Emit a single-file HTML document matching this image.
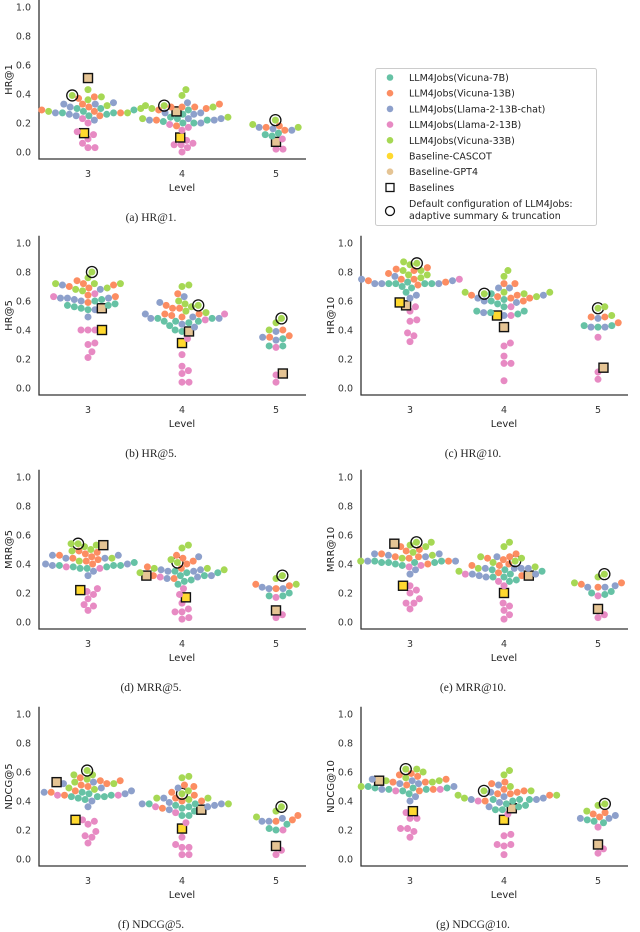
<!DOCTYPE html>
<html><head><meta charset="utf-8">
<style>
body{margin:0;background:#fff;}
svg{display:block;}
text{font-family:"DejaVu Sans","Liberation Sans",sans-serif;}
.cap{font-family:"Liberation Serif",serif;font-size:11.5px;fill:#222;}
</style></head>
<body>
<svg id="fig" width="640" height="932" viewBox="0 0 640 932"></svg>
<script>
const levels = ["3","4","5"];
const seriesNames = ["LLM4Jobs(Vicuna-7B)","LLM4Jobs(Vicuna-13B)","LLM4Jobs(Llama-2-13B-chat)","LLM4Jobs(Llama-2-13B)","LLM4Jobs(Vicuna-33B)"];
const seriesColors = ["#66c2a5","#fc8d62","#8da0cb","#e78ac3","#a6d854"];
const yTicks = ["0.0","0.2","0.4","0.6","0.8","1.0"];
const hr1 = [
 [[0.29,0.30,0.27,0.30,0.25,0.28,0.26,0.27],[0.38,0.33,0.37,0.28,0.31,0.25,0.27,0.29],[0.33,0.34,0.27,0.26,0.33,0.31,0.25,0.22],[0.23,0.20,0.14,0.12,0.09,0.06,0.03,0.03],[0.39,0.43,0.36,0.38,0.30,0.32,0.27,0.28]],
 [[0.29,0.26,0.23,0.24,0.20,0.20,0.21,0.22],[0.33,0.31,0.31,0.30,0.29,0.22,0.18,0.31],[0.23,0.23,0.22,0.27,0.34,0.26,0.27,0.22,0.20],[0.19,0.17,0.15,0.08,0.06,0.05,0.03,0.00,0.05],[0.32,0.43,0.39,0.31,0.30,0.24,0.32,0.23]],
 [[0.13,0.11,0.12],[0.15,0.18,0.17],[0.17,0.16,0.15],[0.09,0.02,0.02],[0.22,0.19,0.17]]];
const hr1Cascot = [0.13,0.10,null];
const hr1Gpt4 = [0.51,0.28,0.07];
const hr5 = [
 [[0.58,0.57,0.61,0.55,0.54,0.60,0.56,0.57],[0.70,0.74,0.72,0.69,0.71,0.63,0.64,0.59],[0.62,0.62,0.68,0.60,0.54,0.71,0.61,0.62,0.49],[0.65,0.63,0.40,0.40,0.40,0.31,0.30,0.25,0.21],[0.80,0.76,0.72,0.72,0.69,0.68,0.67,0.72]],
 [[0.48,0.48,0.46,0.45,0.46,0.46,0.43,0.40,0.39],[0.57,0.65,0.55,0.55,0.51,0.50,0.49,0.51],[0.59,0.51,0.49,0.48,0.48,0.44,0.42,0.63],[0.47,0.34,0.23,0.15,0.12,0.10,0.04,0.04,0.51],[0.57,0.71,0.70,0.58,0.60,0.56,0.53,0.52]],
 [[0.34,0.29,0.29],[0.36,0.40,0.35],[0.39,0.33,0.35],[0.28,0.09,0.04],[0.48,0.45,0.40]]];
const hr5Cascot = [0.40,0.31,null];
const hr5Gpt4 = [0.55,0.39,0.10];
const hr10 = [
 [[0.72,0.72,0.72,0.70,0.69,0.66,0.72,0.73],[0.75,0.81,0.79,0.83,0.73,0.74,0.71,0.82,0.75],[0.72,0.72,0.75,0.74,0.64,0.62,0.77,0.72],[0.75,0.56,0.53,0.47,0.46,0.38,0.36,0.32],[0.86,0.78,0.87,0.85,0.81,0.81,0.78,0.76]],
 [[0.65,0.61,0.60,0.56,0.53,0.53,0.51,0.58,0.52],[0.64,0.62,0.72,0.64,0.63,0.60,0.62,0.72],[0.69,0.59,0.60,0.64,0.69,0.62,0.52,0.50],[0.56,0.50,0.31,0.29,0.22,0.17,0.17,0.05],[0.65,0.81,0.77,0.66,0.66,0.63,0.66,0.65]],
 [[0.43,0.42,0.43],[0.45,0.49,0.49],[0.48,0.42,0.42],[0.35,0.11,0.06],[0.55,0.56,0.50]]];
const hr10Cascot = [0.59,0.50,null];
const hr10Gpt4 = [0.57,0.42,0.14];
const mrr5 = [
 [[0.39,0.38,0.41,0.37,0.37,0.39,0.39,0.38],[0.40,0.49,0.48,0.47,0.43,0.45,0.44,0.46,0.42],[0.46,0.44,0.39,0.46,0.40,0.35,0.32,0.44,0.40],[0.38,0.37,0.23,0.21,0.19,0.16,0.11,0.12,0.08],[0.54,0.53,0.52,0.50,0.44,0.42,0.49,0.54]],
 [[0.35,0.34,0.32,0.28,0.26,0.29,0.32,0.34],[0.37,0.30,0.44,0.46,0.40,0.38,0.42,0.32],[0.36,0.32,0.35,0.31,0.30,0.45,0.36,0.35],[0.31,0.23,0.19,0.13,0.09,0.07,0.03,0.02,0.07],[0.41,0.36,0.51,0.53,0.43,0.37,0.37,0.34]],
 [[0.20,0.18,0.18],[0.26,0.25,0.23],[0.23,0.23,0.24],[0.17,0.05,0.03],[0.32,0.30,0.26]]];
const mrr5Cascot = [0.22,0.17,null];
const mrr5Gpt4 = [0.53,0.32,0.08];
const mrr10 = [
 [[0.41,0.41,0.40,0.39,0.41,0.42,0.42,0.41],[0.45,0.45,0.40,0.47,0.44,0.50,0.52,0.49,0.42],[0.47,0.42,0.36,0.33,0.45,0.47,0.46,0.42],[0.38,0.39,0.25,0.22,0.20,0.16,0.13,0.13,0.09],[0.55,0.52,0.48,0.44,0.46,0.42,0.53,0.55]],
 [[0.35,0.31,0.36,0.31,0.28,0.29,0.33,0.36],[0.39,0.45,0.40,0.44,0.47,0.43,0.32,0.34,0.39],[0.37,0.33,0.37,0.32,0.45,0.37,0.31,0.33,0.37],[0.28,0.25,0.11,0.13,0.08,0.05,0.02,0.33],[0.42,0.55,0.52,0.44,0.41,0.45,0.38,0.37,0.35]],
 [[0.20,0.21,0.19],[0.27,0.24,0.26],[0.24,0.24,0.25],[0.18,0.05,0.03],[0.33,0.31,0.27]]];
const mrr10Cascot = [0.25,0.20,null];
const mrr10Gpt4 = [0.54,0.32,0.09];
const ndcg5 = [
 [[0.45,0.42,0.43,0.43,0.44,0.41,0.43,0.46],[0.46,0.44,0.54,0.50,0.47,0.56,0.52,0.51,0.54],[0.45,0.52,0.49,0.53,0.47,0.40,0.36,0.46],[0.44,0.44,0.26,0.24,0.19,0.15,0.16,0.11,0.27],[0.61,0.58,0.53,0.52,0.55,0.48,0.49,0.58]],
 [[0.35,0.33,0.30,0.30,0.37,0.38,0.36,0.38],[0.42,0.40,0.51,0.44,0.50,0.46,0.40,0.35],[0.38,0.37,0.34,0.38,0.39,0.49,0.42,0.36],[0.36,0.32,0.25,0.15,0.08,0.08,0.10,0.03,0.03],[0.45,0.42,0.57,0.56,0.47,0.41,0.42,0.38]],
 [[0.24,0.20,0.21],[0.27,0.30,0.26],[0.28,0.26,0.26],[0.20,0.06,0.03],[0.36,0.33,0.29]]];
const ndcg5Cascot = [0.27,0.21,null];
const ndcg5Gpt4 = [0.53,0.34,0.09];
const ndcg10 = [
 [[0.49,0.49,0.48,0.45,0.47,0.50,0.48,0.49],[0.48,0.47,0.51,0.59,0.58,0.53,0.57,0.53,0.55],[0.55,0.52,0.48,0.43,0.40,0.52,0.54,0.50],[0.47,0.48,0.32,0.28,0.28,0.21,0.19,0.21,0.15],[0.62,0.50,0.53,0.60,0.56,0.54,0.62,0.54]],
 [[0.41,0.41,0.37,0.36,0.38,0.34,0.34,0.40,0.41],[0.47,0.52,0.53,0.48,0.44,0.45,0.45,0.46,0.40],[0.42,0.41,0.46,0.43,0.39,0.36,0.51,0.41],[0.40,0.31,0.17,0.16,0.10,0.09,0.10,0.03],[0.47,0.47,0.58,0.61,0.50,0.44,0.42,0.44]],
 [[0.25,0.26,0.27],[0.32,0.29,0.31],[0.28,0.28,0.30],[0.22,0.07,0.04],[0.38,0.37,0.33]]];
const ndcg10Cascot = [0.33,0.27,null];
const ndcg10Gpt4 = [0.54,0.35,0.10];

const panels = [
 {id:"hr1",label:"HR@1",cap:"(a) HR@1.",ox:0,oy:0,d:hr1,c:hr1Cascot,g:hr1Gpt4},
 {id:"hr5",label:"HR@5",cap:"(b) HR@5.",ox:0,oy:236,d:hr5,c:hr5Cascot,g:hr5Gpt4},
 {id:"hr10",label:"HR@10",cap:"(c) HR@10.",ox:322,oy:236,d:hr10,c:hr10Cascot,g:hr10Gpt4},
 {id:"mrr5",label:"MRR@5",cap:"(d) MRR@5.",ox:0,oy:470,d:mrr5,c:mrr5Cascot,g:mrr5Gpt4},
 {id:"mrr10",label:"MRR@10",cap:"(e) MRR@10.",ox:322,oy:470,d:mrr10,c:mrr10Cascot,g:mrr10Gpt4},
 {id:"ndcg5",label:"NDCG@5",cap:"(f) NDCG@5.",ox:0,oy:707,d:ndcg5,c:ndcg5Cascot,g:ndcg5Gpt4},
 {id:"ndcg10",label:"NDCG@10",cap:"(g) NDCG@10.",ox:322,oy:707,d:ndcg10,c:ndcg10Cascot,g:ndcg10Gpt4}
];
const NS="http://www.w3.org/2000/svg";
const svg=document.getElementById('fig');
function mk(tag,attrs,parent){const e=document.createElementNS(NS,tag);for(const k in attrs)e.setAttribute(k,attrs[k]);(parent||svg).appendChild(e);return e;}
function swarm(pts,cx,D){
 const placed=[];
 pts.sort((a,b)=>b.py-a.py);
 pts.forEach(p=>{
  const cands=[0];
  placed.forEach(q=>{const dy=p.py-q.py;if(Math.abs(dy)<D){const w=Math.sqrt(D*D-dy*dy);cands.push(q.dx+w,q.dx-w);}});
  cands.sort((a,b)=>Math.abs(a)-Math.abs(b));
  for(const c of cands){let ok=true;for(const q of placed){const dy=p.py-q.py,dx=c-q.dx;if(dx*dx+dy*dy<D*D-0.01){ok=false;break;}}if(ok){p.dx=c;break;}}
  placed.push(p);
 });
 pts.forEach(p=>p.px=cx+p.dx);
}
panels.forEach(P=>{
 const g=mk('g',{transform:`translate(${P.ox},${P.oy})`});
 
 
 const y=v=>152-v*145;
 const xl=i=>88+i*94;
 yTicks.forEach(t=>{const tx=mk('text',{x:31,y:y(parseFloat(t))+3.5,'text-anchor':'end','font-size':'9.5',fill:'#333'},g);tx.textContent=t;
  });
 const yl=mk('text',{transform:`translate(12,${y(0.5)}) rotate(-90)`,'text-anchor':'middle','font-size':'10',fill:'#222'},g);yl.textContent=P.label;
 
 levels.forEach((L,i)=>{const tx=mk('text',{x:xl(i),y:177,'text-anchor':'middle','font-size':'9.5',fill:'#333'},g);tx.textContent=L;
  });
 const xt=mk('text',{x:182,y:191,'text-anchor':'middle','font-size':'10',fill:'#222'},g);xt.textContent="Level";
 
 const cp=mk('text',{x:151,y:221,'text-anchor':'middle',class:'cap'},g);cp.textContent=P.cap;
 
 mk('line',{x1:39,y1:y(1.05),x2:39,y2:159.5,stroke:'#333','stroke-width':1.3},g);
 mk('line',{x1:38.5,y1:159,x2:306,y2:159,stroke:'#333','stroke-width':1.3},g);
 levels.forEach((L,i)=>{
  const pts=[];
  P.d[i].forEach((arr,s)=>arr.forEach((v,k)=>pts.push({v:v,py:y(v),s:s,def:(s===4&&k===0)})));
  if(P.c[i]!=null)pts.push({v:P.c[i],py:y(P.c[i]),s:5,sq:true});
  if(P.g[i]!=null)pts.push({v:P.g[i],py:y(P.g[i]),s:6,sq:true});
  swarm(pts,xl(i),7);
  pts.forEach(p=>{
   if(p.sq){
    const r=mk('rect',{x:p.px-4.5,y:p.py-4.5,width:9,height:9,fill:p.s===5?'#ffd92f':'#e5c494',stroke:'#111','stroke-width':1.4},g);
    
    
   }else{
    const c=mk('circle',{cx:p.px,cy:p.py,r:3.5,fill:seriesColors[p.s]},g);
    
    
    if(p.def){const o=mk('circle',{cx:p.px,cy:p.py,r:5.5,fill:'none',stroke:'#111','stroke-width':1.3},g);
     }
   }
  });
 });
});
const lg=mk('g',{});


mk('rect',{x:375.5,y:68.5,width:221,height:157,fill:'#fff',stroke:'#ccc','stroke-width':1,rx:2},lg);
const legItems=seriesNames.concat(["Baseline-CASCOT","Baseline-GPT4"]);
const legCols=seriesColors.concat(["#ffd92f","#e5c494"]);
legItems.forEach((n,i)=>{
 const yy=77.5+i*15.7;
 const c=mk('circle',{cx:390,cy:yy,r:3.3,fill:legCols[i]},lg);
 
 const t=mk('text',{x:409,y:yy+3.5,'font-size':'9.5',fill:'#222'},lg);t.textContent=n;
 
});
mk('rect',{x:386,y:183.5,width:8,height:8,fill:'none',stroke:'#111','stroke-width':1.3},lg);
const tb=mk('text',{x:409,y:191,'font-size':'9.5',fill:'#222'},lg);tb.textContent="Baselines";

mk('circle',{cx:390,cy:211,r:4.5,fill:'none',stroke:'#111','stroke-width':1.3},lg);
const t1=mk('text',{x:409,y:207,'font-size':'9.5',fill:'#222'},lg);t1.textContent="Default configuration of LLM4Jobs:";

const t2=mk('text',{x:409,y:219,'font-size':'9.5',fill:'#222'},lg);t2.textContent="adaptive summary & truncation";

</script>
</body></html>
